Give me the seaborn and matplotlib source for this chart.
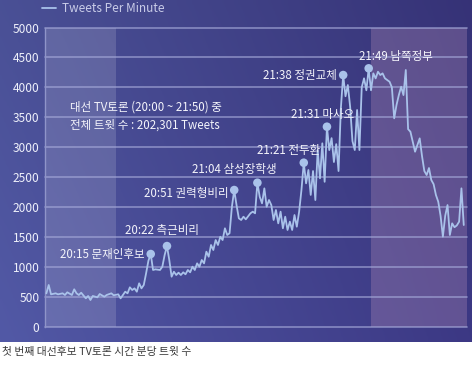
import numpy as np
import matplotlib
matplotlib.use("Agg")
import matplotlib.pyplot as plt
import seaborn as sns
import pandas as pd

# minutes after 19:30, tweets per minute
minute = [0, 1, 2, 4, 5, 7, 8, 9, 11, 12, 13, 14, 15, 17, 18, 19, 20, 22, 23, 25,
          26, 28, 29, 31, 32, 34, 35, 36, 37, 38, 39, 40, 41, 42, 43, 44, 45, 46, 47, 49,
          50, 51, 52, 53, 54, 55, 56, 57, 58, 59, 60, 61, 62, 63, 64, 65, 66, 67, 68, 69,
          70, 71, 72, 73, 74, 75, 76, 77, 78, 79, 80, 81, 82, 83, 84, 85, 86, 88, 89, 90,
          91, 92, 93, 94, 95, 96, 97, 98, 99, 100, 101, 102, 103, 104, 105, 106, 107, 108, 109, 110,
          111, 112, 113, 114, 115, 116, 117, 118, 119, 120, 121, 122, 123, 124, 125, 126, 127, 128, 129, 130,
          131, 132, 133, 134, 135, 136, 137, 138, 139, 140, 141, 142, 143, 144, 145, 146, 147, 148, 149, 150,
          151, 152, 153, 154, 155, 156, 157, 158, 159, 160, 161, 162, 163, 164, 165, 166, 167, 168, 169, 170,
          171, 172, 173, 174, 175, 176, 177, 178, 179, 180]
tweets = [555, 694, 538, 555, 538, 555, 527, 572, 527, 622, 555, 527, 565, 471, 510, 443, 510, 488, 543, 498,
          527, 555, 522, 538, 471, 582, 555, 655, 610, 638, 582, 722, 638, 694, 889, 1100, 1212, 945, 956, 945,
          1000, 1195, 1345, 1112, 833, 916, 861, 900, 861, 906, 873, 945, 906, 1000, 945, 1056, 1000, 1112, 1056, 1251,
          1167, 1363, 1279, 1446, 1363, 1501, 1446, 1642, 1530, 1560, 2000, 2282, 2031, 1809, 1781, 1836, 1792, 1893, 1920, 1893,
          2404, 2170, 2060, 2310, 2003, 2115, 2031, 1781, 1948, 1725, 1920, 1642, 1836, 1614, 1753, 1614, 1864, 1669, 1920, 2282,
          2739, 2394, 2617, 2200, 2600, 2115, 2950, 2478, 3063, 2420, 3341, 2950, 3150, 2750, 3050, 2600, 3650, 4205, 3850, 4038,
          3676, 3100, 2951, 3620, 2951, 4000, 4150, 3950, 4317, 3950, 4233, 4149, 4260, 4205, 4233, 4150, 4121, 4093, 4000, 3481,
          3704, 3870, 4010, 3870, 4289, 3300, 3257, 3090, 2923, 3035, 3146, 2850, 2600, 2533, 2650, 2450, 2380, 2199, 2087, 1850,
          1502, 1850, 2031, 1530, 1725, 1660, 1690, 1753, 2310, 1697]

peak_minute = [45, 52, 81, 91, 111, 121, 128, 139]
peak_label = ["20:15 문재인후보", "20:22 측근비리", "20:51 권력형비리", "21:04 삼성장학생",
              "21:21 전두환", "21:31 마사오", "21:38 정권교체", "21:49 남쪽정부"]
label_x = [6, 34, 42, 63, 91, 105.5, 93.5, 135]
label_y = [1200, 1610, 2230, 2620, 2950, 3540, 4190, 4520]
yticks = list(range(0, 5001, 500))

LINE = "#a9c2ea"
TXT = "#f4f4fb"

sns.set_theme(style="white")
plt.rcParams["font.family"] = ["Noto Sans CJK KR", "DejaVu Sans"]

fig = plt.figure(figsize=(4.73, 3.65), dpi=100)
fig.patch.set_facecolor("white")

# blue panel behind the chart
bg = fig.add_axes([0, 23 / 365, 471 / 473, 342 / 365])
c0 = np.array([0x52, 0x59, 0xa6]) / 255
c1 = np.array([0x3c, 0x38, 0x84]) / 255
t = np.linspace(0, 1, 256)
img = c0[None, None, :] * (1 - t)[None, :, None] + c1[None, None, :] * t[None, :, None]
img = np.repeat(img, 64, axis=0)
shade = np.linspace(0.9, 1.0, 64)[:, None, None]
bg.imshow(img * shade, aspect="auto", extent=[0, 1, 0, 1])
bg.axis("off")

ax = fig.add_axes([45 / 473, 38.5 / 365, 422 / 473, 299 / 365])
ax.patch.set_alpha(0)

ax.axvspan(-0.6, 30, color="white", alpha=0.14, lw=0, zorder=0)
ax.axvspan(140, 181.4, color="#c59ac0", alpha=0.28, lw=0, zorder=0)

for y in yticks:
    ax.axhline(y, color="#a4a8d8", lw=1.2, alpha=0.7, zorder=1, clip_on=False)

df = pd.DataFrame({"minute": minute, "tweets": tweets})
sns.lineplot(data=df, x="minute", y="tweets", color=LINE, lw=1.3, ax=ax,
             label="Tweets Per Minute", zorder=3)

peaks = df[df["minute"].isin(peak_minute)]
sns.scatterplot(data=peaks, x="minute", y="tweets", color=LINE, s=38,
                edgecolor="none", ax=ax, zorder=4, legend=False)

for lx, ly, lab in zip(label_x, label_y, peak_label):
    ax.text(lx, ly, lab, color=TXT, fontsize=8.3, ha="left", va="center", zorder=5)

ax.text(10.2, 3670, "대선 TV토론 (20:00 ~ 21:50) 중", color=TXT, fontsize=8.3, va="center")
ax.text(10.2, 3370, "전체 트윗 수 : 202,301 Tweets", color=TXT, fontsize=8.3, va="center")

ax.set_xlim(-0.6, 181.4)
ax.set_ylim(0, 5000)
ax.set_yticks(yticks)
ax.set_xticks([])
ax.set_xlabel("")
ax.set_ylabel("")
ax.tick_params(axis="y", length=0, pad=4, labelsize=8.6, labelcolor="#eef0fa")
for side in ["top", "right", "bottom"]:
    ax.spines[side].set_visible(False)
ax.spines["left"].set_color("#8f94c9")
ax.spines["left"].set_linewidth(1.0)

leg = ax.legend(loc="center left", bbox_to_anchor=(42 / 473, 1 - 9 / 365),
                bbox_transform=fig.transFigure, frameon=False, handlelength=1.2,
                handletextpad=0.5, borderaxespad=0, borderpad=0, fontsize=8.5,
                labelcolor="#c9cce8")

fig.text(2 / 473, 1 - 352 / 365, "첫 번째 대선후보 TV토론 시간 분당 트윗 수",
         color="#3a3a3a", fontsize=7.8, va="center", ha="left")

fig.savefig("out.png", dpi=100)
